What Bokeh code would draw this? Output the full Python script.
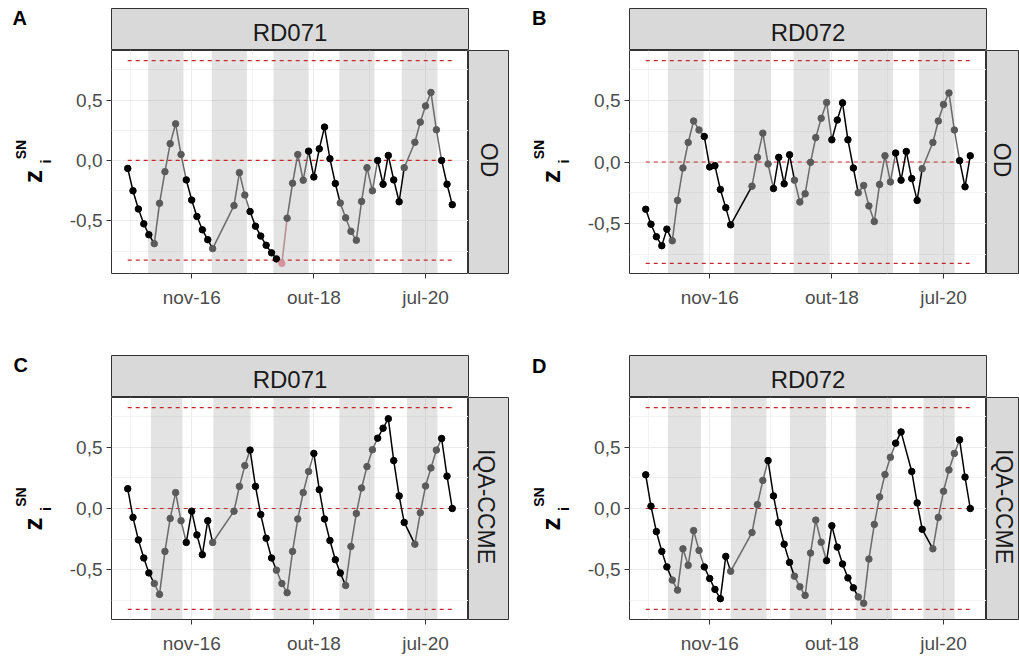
import math
import pandas as pd
from bokeh.plotting import figure
from bokeh.layouts import row, column
from bokeh.models import Range1d, FixedTicker
from bokeh.core.properties import value
from bokeh.embed import file_html
from bokeh.resources import INLINE

# ---------------- data ----------------
months = pd.date_range("2015-11-01", "2020-12-01", freq="MS")  # monthly sampling dates

tick_dates = ["2016-11-01", "2018-10-01", "2020-07-01"]
tick_labels = ["nov-16", "out-18", "jul-20"]
y_ticks = [-0.5, 0.0, 0.5]
y_minor = [-0.75, -0.25, 0.25, 0.75]
y_tick_labels = ["-0,5", "0,0", "0,5"]
limit = 0.826

N = None
A_vals = [-0.066, -0.251, -0.402, -0.525, -0.615, -0.689, -0.355, -0.093, 0.139, 0.303, 0.049,
          -0.161, -0.328, -0.464, -0.574, -0.656, -0.730, N, N, N,
          -0.374, -0.101, -0.287, -0.423, -0.544, -0.626, -0.702, -0.765, -0.815, -0.852,
          -0.478, -0.189, 0.049, -0.164, 0.077, -0.137, 0.096, 0.276, 0.014, -0.191,
          -0.352, -0.475, -0.587, -0.661, -0.339, -0.060, -0.251, 0.000, -0.197, 0.041,
          -0.161, -0.342, -0.060, N, 0.150, 0.317, 0.451, 0.563, 0.254, 0.000, -0.197, -0.366]
A_season = "bbbbbggggggbbbbbg___gggbbbbbbpggggbbbbbbgggggggbbbbbg_gggggbbb"

B_vals = [-0.385, -0.507, -0.609, -0.682, -0.547, -0.642, -0.313, -0.049, 0.159, 0.334, 0.261,
          0.208, -0.040, -0.030, -0.224, -0.372, -0.512, N, N, N,
          -0.197, 0.038, 0.235, -0.016, -0.216, 0.038, -0.178, 0.059, -0.148, -0.326,
          -0.259, -0.003, 0.199, 0.356, 0.485, 0.181, 0.342, 0.482, 0.181, -0.049,
          -0.251, -0.191, -0.358, -0.485, -0.183, 0.051, -0.162, 0.073, -0.148, 0.086,
          -0.135, -0.313, -0.054, N, 0.159, 0.334, 0.469, 0.563, 0.261, 0.011, -0.202, 0.051]
B_season = "bbbbbggggggbbbbbb___ggggbbbbgggggggbbbbbgggggggbbbbbg_gggggbbb"

C_vals = [0.162, -0.073, -0.257, -0.405, -0.527, -0.614, -0.703, -0.351, -0.081, 0.130, -0.100,
          -0.278, -0.022, -0.216, -0.378, -0.100, -0.278, N, N, N,
          -0.022, 0.181, 0.351, 0.478, 0.181, -0.049, -0.243, -0.405, -0.505, -0.614,
          -0.689, -0.351, -0.086, 0.130, 0.303, 0.451, 0.154, -0.086, -0.262, -0.419,
          -0.527, -0.630, -0.311, -0.041, 0.168, 0.343, 0.481, 0.576, 0.657, 0.735,
          0.392, 0.103, -0.114, N, -0.292, -0.035, 0.184, 0.332, 0.478, 0.573, 0.265, 0.000]
C_season = "bbbbbggggggbbbbbg___gggbbbbbgggggggbbbbbbggggggbbbbbb_gggggbbb"

D_vals = [0.276, 0.019, -0.189, -0.351, -0.478, -0.586, -0.668, -0.330, -0.465, -0.181, -0.343,
          -0.478, -0.573, -0.662, -0.738, -0.392, -0.514, N, N, N,
          -0.197, 0.032, 0.230, 0.392, 0.103, -0.116, -0.292, -0.441, -0.554, -0.641,
          -0.711, -0.365, -0.095, -0.276, -0.427, -0.141, -0.316, -0.454, -0.568, -0.649,
          -0.724, -0.776, -0.414, -0.130, 0.095, 0.278, 0.419, 0.535, 0.627, N,
          0.303, 0.046, -0.170, N, -0.330, -0.073, 0.141, 0.316, 0.451, 0.562, 0.257, 0.000]
D_season = "bbbbbggggggbbbbbg___gggbbbbbggggggbbbbbbgggggggbb_bbb_gggggbbb"

A_bands = [("2016-02-26", "2016-09-15"), ("2017-02-24", "2017-09-13"), ("2018-02-12", "2018-09-01"),
           ("2019-02-24", "2019-09-13"), ("2020-02-16", "2020-09-07")]
B_bands = [("2016-03-07", "2016-09-27"), ("2017-03-20", "2017-10-16"), ("2018-02-24", "2018-09-19"),
           ("2019-02-27", "2019-09-16"), ("2020-02-12", "2020-09-03")]
C_bands = [("2016-03-13", "2016-09-09"), ("2017-03-05", "2017-10-04"), ("2018-02-12", "2018-09-07"),
           ("2019-02-24", "2019-09-13"), ("2020-03-17", "2020-09-07")]
D_bands = [("2016-03-07", "2016-09-12"), ("2017-03-02", "2017-09-22"), ("2018-02-03", "2018-08-29"),
           ("2019-02-15", "2019-09-10"), ("2020-03-08", "2020-09-03")]

# ---------------- style ----------------
FONT = value("Liberation Sans")
PT_COL = {"b": "#000000", "g": "#5A5A5A", "p": "#D6939D"}
LN_COL = {"b": "#000000", "g": "#6A6A6A", "p": "#B98A90"}
STRIP_FILL = "#D9D9D9"
BORDER = "#333333"
FRAME_W = 357
AX_W = 46


def ms(d):
    return pd.Timestamp(d).value / 1e6


tick_ms = [ms(d) for d in tick_dates]
d01 = tick_ms[1] - tick_ms[0]
d12 = tick_ms[2] - tick_ms[1]
x_minor = [tick_ms[0] - d01 / 2, (tick_ms[0] + tick_ms[1]) / 2,
           (tick_ms[1] + tick_ms[2]) / 2, tick_ms[2] + d12 / 2]


def bare(fig):
    fig.grid.visible = False
    return fig


def panel(letter, site, var, vals, season, bands, lw, rs, fh, bb, letter_x, letter_cy, rs_center):
    H = 8 + 42 + fh + bb
    xs = [ms(m) for m, v in zip(months, vals) if v is not None]
    ys = [v for v in vals if v is not None]
    cs = [c for c, v in zip(season, vals) if v is not None]
    lo = min(min(ys), -limit)
    hi = max(max(ys), limit)
    pad = 0.05 * (hi - lo)
    ylo, yhi = lo - pad, hi + pad
    x0, x1 = xs[0], xs[-1]
    xpad = 0.05 * (x1 - x0)

    # ---- left: panel letter + y axis title ----
    left = figure(width=lw, height=H, x_range=Range1d(0, lw), y_range=Range1d(0, H),
                  min_border=0, toolbar_location=None, output_backend="svg",
                  x_axis_location=None, y_axis_location=None, outline_line_color=None)
    bare(left)
    left.text(x=[letter_x], y=[H - letter_cy], text=[letter], text_font=FONT,
              text_font_style="bold", text_font_size="20px", text_align="left",
              text_baseline="middle", text_color="#000000")
    fc = 50 + fh / 2.0
    left.text(x=[lw - 33], y=[H - (fc + 14.5)], text=["z"], angle=math.pi / 2,
              text_font=FONT, text_font_style="bold", text_font_size="26px",
              text_align="center", text_baseline="middle", text_color="#000000")
    left.text(x=[lw - 20], y=[H - (fc - 0.5)], text=["i"], angle=math.pi / 2,
              text_font=FONT, text_font_style="bold", text_font_size="14px",
              text_align="center", text_baseline="middle", text_color="#000000")
    left.text(x=[lw - 44.5], y=[H - (fc - 12.5)], text=["SN"], angle=math.pi / 2,
              text_font=FONT, text_font_style="bold", text_font_size="14px",
              text_align="center", text_baseline="middle", text_color="#000000")

    # ---- top strip ----
    top = figure(width=AX_W + FRAME_W + rs, height=50, x_range=Range1d(0, 1), y_range=Range1d(0, 42),
                 min_border=0, min_border_left=AX_W, min_border_right=rs, min_border_top=8,
                 min_border_bottom=0, toolbar_location=None, output_backend="svg",
                 x_axis_location=None, y_axis_location=None,
                 background_fill_color=STRIP_FILL, outline_line_color=BORDER)
    bare(top)
    top.text(x=[0.5], y=[18.3], text=[site], text_font=FONT, text_font_size="24px",
             text_align="center", text_baseline="middle", text_color="#1A1A1A")

    # ---- main panel ----
    main = figure(width=AX_W + FRAME_W, height=fh + bb,
                  x_range=Range1d(x0 - xpad, x1 + xpad), y_range=Range1d(ylo, yhi),
                  min_border=0, min_border_left=AX_W, min_border_right=0, min_border_top=0,
                  min_border_bottom=bb, toolbar_location=None, output_backend="svg",
                  outline_line_color=BORDER, background_fill_color="white")
    main.quad(left=[ms(a) for a, b in bands], right=[ms(b) for a, b in bands],
              bottom=ylo, top=yhi, fill_color="#808080", fill_alpha=0.22, line_color=None)
    main.segment(x0=[x0] * 3, x1=[x1] * 3, y0=[-limit, 0.0, limit], y1=[-limit, 0.0, limit],
                 line_color="#C62828", line_dash="4 4", line_width=1.2)
    main.segment(x0=xs[:-1], y0=ys[:-1], x1=xs[1:], y1=ys[1:],
                 line_color=[LN_COL[c] for c in cs[:-1]], line_width=1.5)
    main.scatter(xs, ys, size=6.5, fill_color=[PT_COL[c] for c in cs],
                 line_color=[PT_COL[c] for c in cs])

    main.xaxis.ticker = FixedTicker(ticks=tick_ms, minor_ticks=x_minor)
    main.xaxis.major_label_overrides = {t: l for t, l in zip(tick_ms, tick_labels)}
    main.yaxis.ticker = FixedTicker(ticks=y_ticks, minor_ticks=y_minor)
    main.yaxis.major_label_overrides = {t: l for t, l in zip(y_ticks, y_tick_labels)}
    for ax in (main.xaxis[0], main.yaxis[0]):
        ax.axis_line_color = None
        ax.major_tick_line_color = BORDER
        ax.major_tick_in = 0
        ax.major_tick_out = 5
        ax.minor_tick_line_color = None
        ax.major_label_text_font = "Liberation Sans"
        ax.major_label_text_font_size = "19px"
        ax.major_label_text_color = "#4D4D4D"
    main.xaxis.major_label_standoff = 8
    main.yaxis.major_label_standoff = 4
    for g in (main.xgrid[0], main.ygrid[0]):
        g.grid_line_color = "#EBEBEB"
        g.grid_line_width = 1
        g.minor_grid_line_color = "#F3F3F3"
        g.minor_grid_line_width = 1

    # ---- right strip ----
    right = figure(width=rs, height=fh + bb, x_range=Range1d(0, rs), y_range=Range1d(0, fh),
                   min_border=0, min_border_bottom=bb, min_border_top=0, min_border_left=0,
                   min_border_right=0, toolbar_location=None, output_backend="svg",
                   x_axis_location=None, y_axis_location=None,
                   background_fill_color=STRIP_FILL, outline_line_color=BORDER)
    bare(right)
    right.text(x=[rs_center], y=[fh / 2.0 + 2], text=[var], angle=-math.pi / 2,
               text_font=FONT, text_font_size="23px", text_align="center",
               text_baseline="middle", text_color="#1A1A1A")

    return row(left, column(top, row(main, right)))


pA = panel("A", "RD071", "OD", A_vals, A_season, A_bands, 65, 41, 223, 74, 12, 17.5, 20.0)
pB = panel("B", "RD072", "OD", B_vals, B_season, B_bands, 74, 33, 223, 74, 22.5, 17.5, 15.5)
pC = panel("C", "RD071", "IQA-CCME", C_vals, C_season, C_bands, 65, 41, 224, 35, 13, 17.2, 17.5)
pD = panel("D", "RD072", "IQA-CCME", D_vals, D_season, D_bands, 74, 33, 224, 35, 22.5, 18.5, 17.0)

layout = column(row(pA, pB), row(pC, pD))
open("out.html", "w").write(file_html(layout, INLINE))
